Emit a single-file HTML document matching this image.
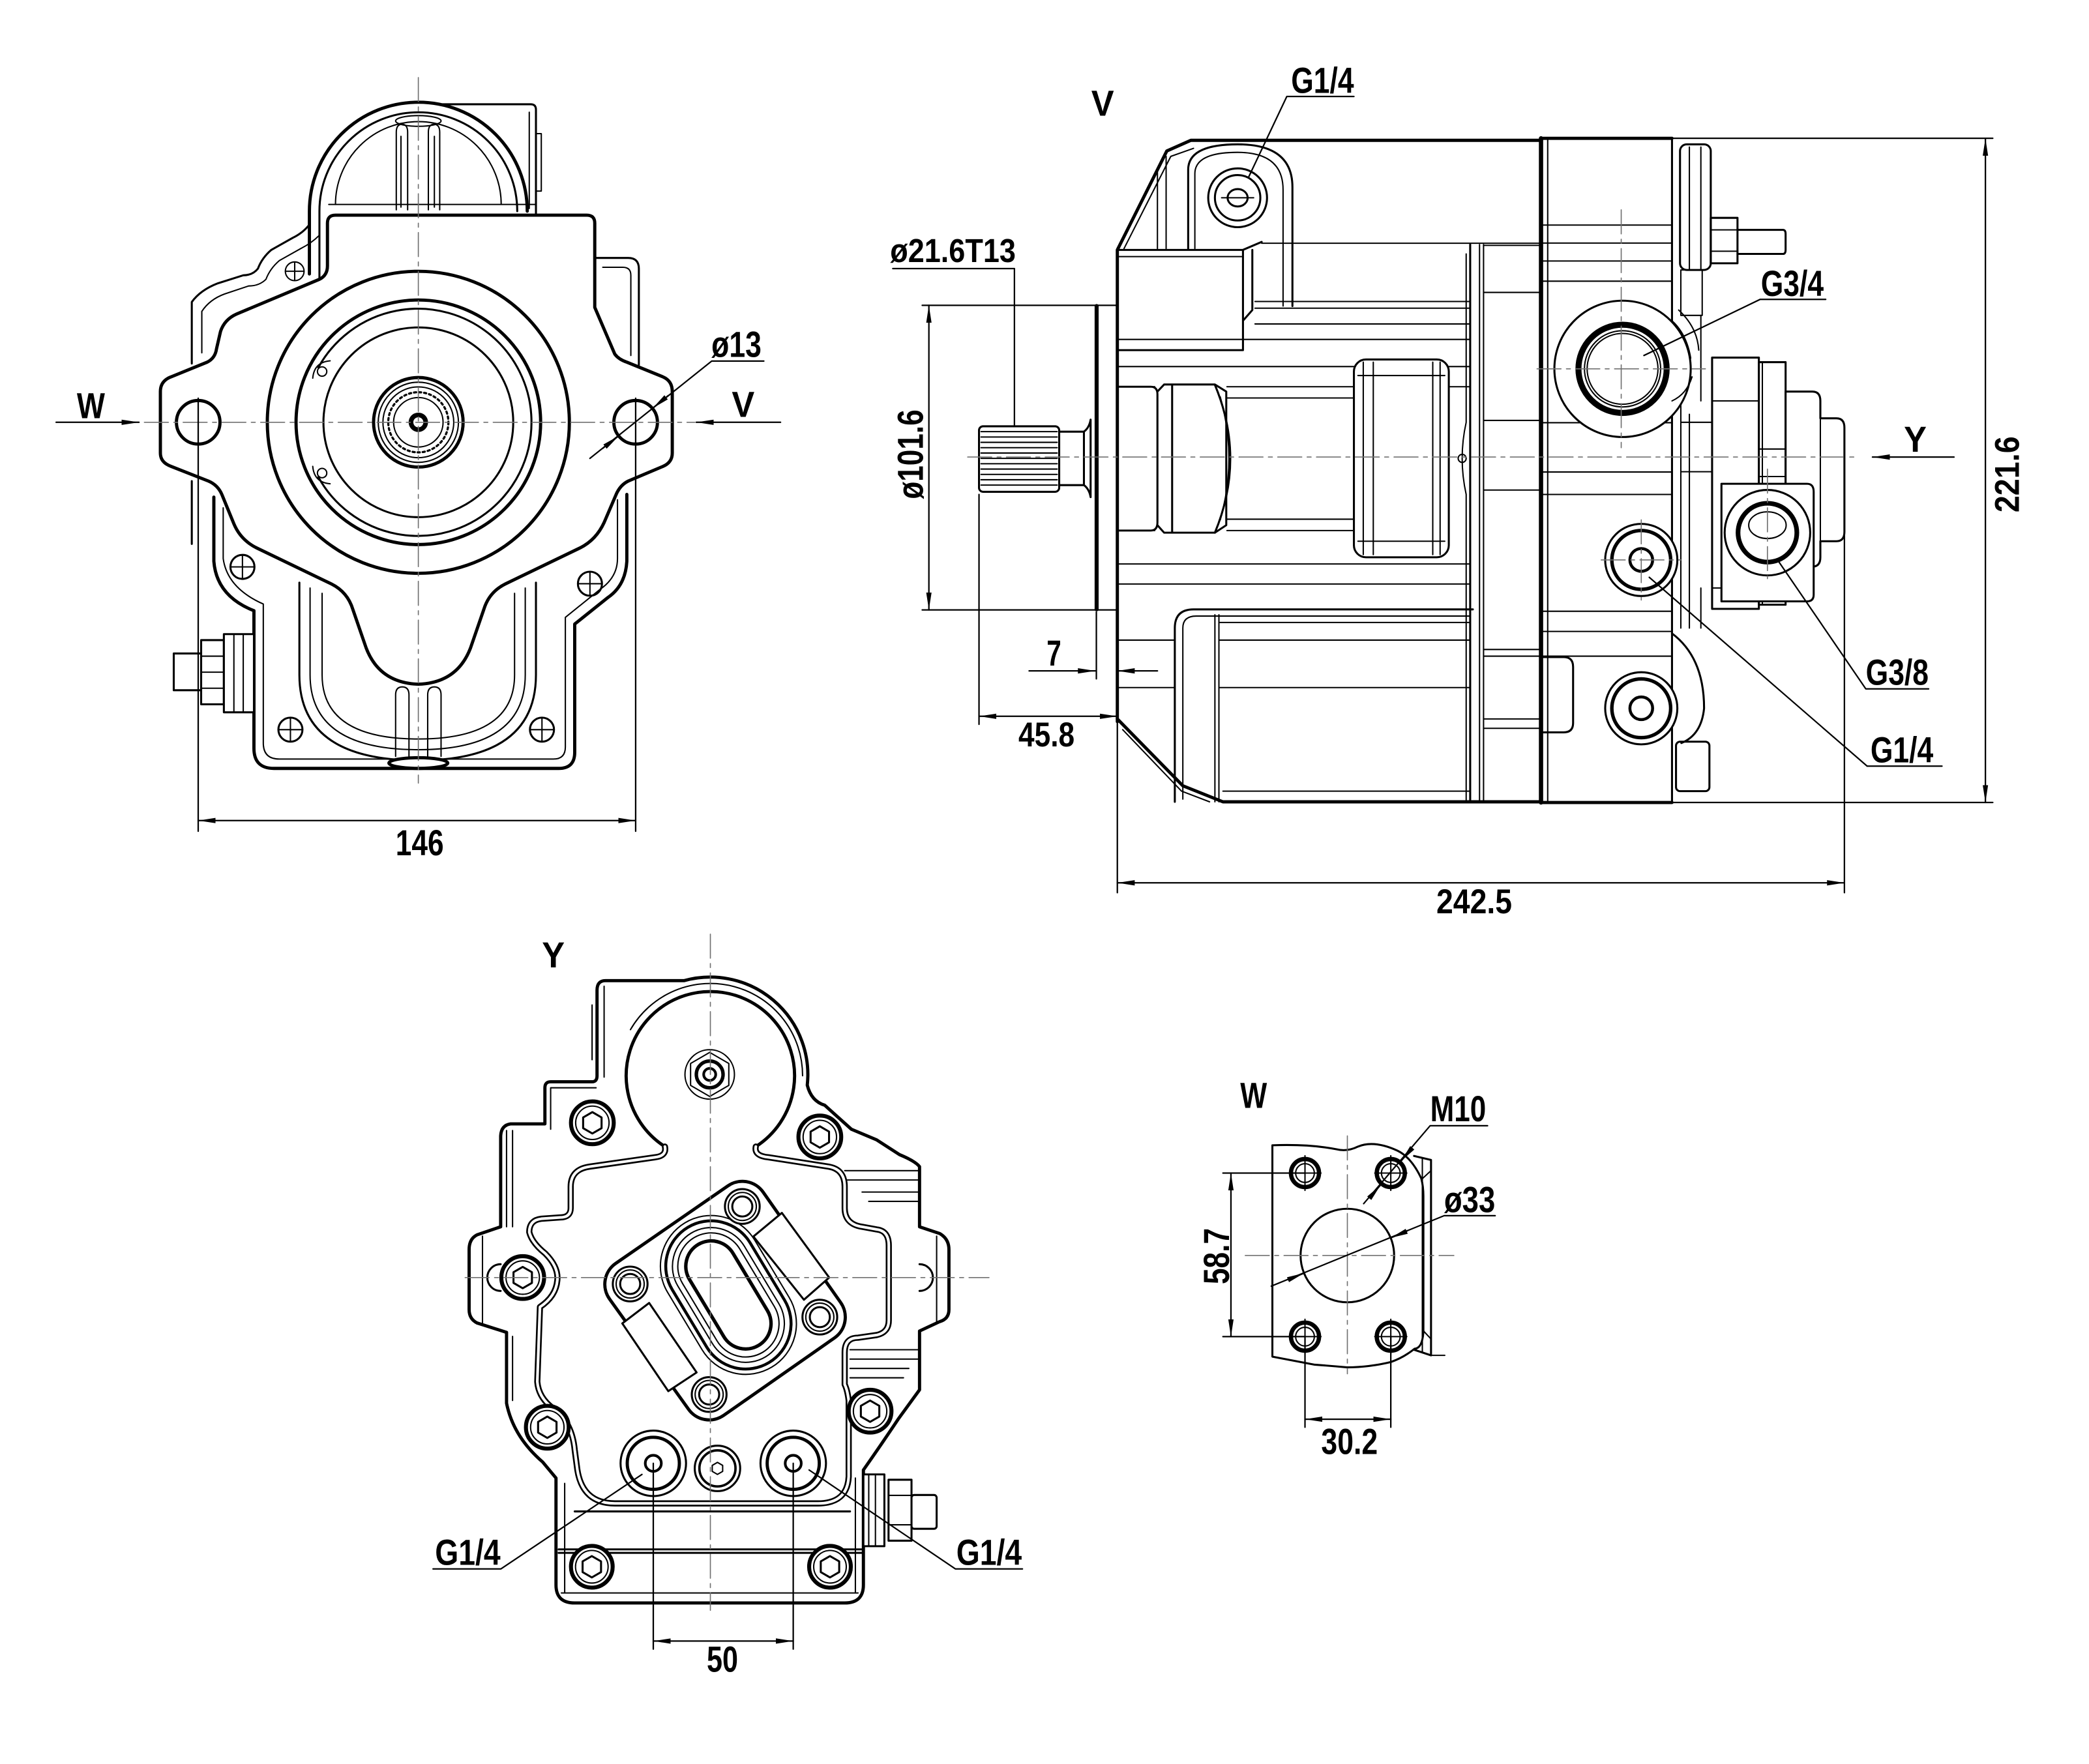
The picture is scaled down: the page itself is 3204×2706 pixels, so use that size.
<!DOCTYPE html>
<html><head><meta charset="utf-8"><title>Pump dimension drawing</title>
<style>
html,body{margin:0;padding:0;background:#fff}
svg{display:block}
text{font-family:"Liberation Sans",Arial,sans-serif;font-weight:bold;fill:#000;stroke:none}
.c{stroke:#707070;stroke-width:.8;stroke-dasharray:18 4 3 4;fill:none}
.t{stroke-width:1}
.m{stroke-width:1.5}
.k{stroke-width:2.4}
.d{stroke-width:1.1}
</style></head><body>
<svg xmlns="http://www.w3.org/2000/svg" width="3204" height="2706" viewBox="0 0 1563 1320" preserveAspectRatio="none">
<defs>
<marker id="ar" viewBox="0 0 13 5" refX="13" refY="2.5" markerWidth="13" markerHeight="5" orient="auto-start-reverse" markerUnits="userSpaceOnUse"><path d="M0,0.5 L13,2.5 L0,4.5 z" fill="#000" stroke="none"/></marker>
</defs>
<rect width="1563" height="1320" fill="#fff"/>

<!-- ===================== VIEW 1 : FRONT ===================== -->
<g fill="none" stroke="#000" stroke-linejoin="round" stroke-linecap="round">
<path class="k" d="M231.5,205 V158 A81.5 81.5 0 0 1 394.5,158"/>
<path class="m" d="M239,208 V158 A74 74 0 0 1 387,158"/>
<path class="t" d="M251,153 A62 62 0 0 1 375,153"/>
<path class="t" d="M246,153 H401"/>
<path class="m" d="M331,78 H397 Q401,78 401,82 V161"/>
<path class="t" d="M396,84 V156 M401,100 H405 V143 H401"/>
<path class="t" d="M296.5,157 V99 Q296.5,93 300.8,93 Q305,93 305,99 V157 M320.5,157 V99 Q320.5,93 324.7,93 Q329,93 329,99 V157 M300,155 V102 M325,155 V102"/>
<ellipse class="t" cx="313" cy="90.5" rx="17" ry="4"/>
<path class="m" d="M231.5,168 Q227,174 219,178 L203,187 Q196,193 193,201 Q189,206 182,206 L163,212 Q150,217 143.5,226 V272"/>
<path class="t" d="M239,176 Q233,182 225,186 L209,195 Q202,201 199,209 Q194,214 186,214 L168,220 Q157,224 151,233 V264"/>
<g transform="translate(220.5,203)"><circle r="7" class="t"/><path class="t" d="M-7,0 H7 M0,-7 V7"/></g>
<path class="m" d="M445,193 H470 Q478,193 478,201 V273"/>
<path class="t" d="M451,200 H466 Q472,200 472,206 V266"/>
<path class="m" d="M143.5,360 V407"/>
<path class="k" d="M160,372 V420 Q162,446 190,457 V560 Q190,575 205,575 H418 Q430,575 430,563 V467 L455,447 Q468,438 469,420 V370"/>
<path class="t" d="M167,380 V418 Q170,440 197,452 V556 Q197,568 209,568 H414 Q423,568 423,559 V462 L449,441 Q462,432 462,418 V374"/>
<path class="m" d="M224,436 V505 Q224,569 313,569 Q401,569 401,505 V436"/>
<path class="t" d="M232,440 V505 Q232,561 313,561 Q393,561 393,505 V440"/>
<path class="t" d="M241,444 V505 Q241,553 313,553 Q385,553 385,505 V444"/>
<path class="t" d="M296,566 V520 Q296,514 301,514 Q306,514 306,520 V566 M320,566 V520 Q320,514 325,514 Q330,514 330,520 V566"/>
<ellipse class="k" cx="313" cy="571" rx="22" ry="4" fill="#fff"/>
<g transform="translate(181.4,424.2)"><circle r="9" class="m"/><path class="t" d="M-9,0 H9 M0,-9 V9"/></g>
<g transform="translate(441.4,436.8)"><circle r="9" class="m"/><path class="t" d="M-9,0 H9 M0,-9 V9"/></g>
<g transform="translate(217.3,546)"><circle r="9" class="m"/><path class="t" d="M-9,0 H9 M0,-9 V9"/></g>
<g transform="translate(405.5,546)"><circle r="9" class="m"/><path class="t" d="M-9,0 H9 M0,-9 V9"/></g>
<rect class="m" x="130" y="489" width="20.5" height="27.5" fill="#fff"/>
<rect class="m" x="150.5" y="479" width="17" height="48" fill="#fff"/>
<path class="t" d="M150.5,491 H167.5 M150.5,503 H167.5 M150.5,515 H167.5"/>
<rect class="m" x="167.5" y="474.5" width="22.5" height="58.5" fill="#fff"/>
<path class="t" d="M175,474.5 V533 M182,474.5 V533"/>
<!-- flange -->
<path class="k" fill="#fff" d="M251,161 H439 Q445,161 445,167 V230 L460,265 Q463,269 469,271 L496,282 Q503,285 503,293 V339 Q503,346 496,349 L470,360 Q464,363 461,370 L452,391 Q446,404 434,410 L378,437 Q366,443 362,456 L352,485 Q342,511 313,512 Q284,511 274,485 L264,456 Q260,443 248,437 L192,410 Q180,404 175,392 L166,370 Q163,363 156,360 L128,349 Q120,346 120,339 V293 Q120,285 128,282 L155,271 Q161,268 162,261 L165,248 Q168,239 177,235 L239,209 Q245,206 245,199 V167 Q245,161 251,161 Z"/>
<circle class="k" cx="313" cy="316" r="113"/>
<circle class="k" cx="313" cy="316" r="91.5"/>
<circle class="m" cx="313" cy="316" r="71"/>
<path class="m" d="M238.2,275 A85 85 0 1 1 238.2,357"/>
<circle class="t" cx="241" cy="278" r="3.5"/>
<circle class="t" cx="241" cy="354" r="3.5"/>
<path class="t" d="M234,283 Q235,271 247,270 M234,349 Q235,361 247,362"/>
<circle class="k" cx="313" cy="316" r="33.5"/>
<circle class="t" cx="313" cy="316" r="30"/>
<circle class="t" cx="313" cy="316" r="26.5"/>
<circle cx="313" cy="316" r="22.5" stroke-width="1.6" stroke-dasharray="1.6 2.2"/>
<circle class="t" cx="313" cy="316" r="18.5"/>
<circle cx="313" cy="316" r="5.5" stroke-width="3.5"/>
<circle class="k" cx="148.3" cy="316" r="16.3"/>
<circle class="k" cx="475.6" cy="316" r="16.3"/>
<line class="c" x1="108" y1="316" x2="520" y2="316"/>
<line class="c" x1="313" y1="58" x2="313" y2="586"/>
<!-- W / V arrows -->
<path class="d" d="M42,316 H104" marker-end="url(#ar)"/>
<path class="d" d="M584,316 H521" marker-end="url(#ar)"/>
<!-- 146 -->
<path class="d" d="M148.3,298 V622 M475.6,298 V622"/>
<path class="d" d="M148.3,614 H475.6" marker-start="url(#ar)" marker-end="url(#ar)"/>
<!-- ø13 -->
<path class="d" d="M441.4,343 L532.5,270.2 H571.5"/>
<path class="d" d="M500,296 L488.3,305.5" marker-end="url(#ar)"/>
<path class="d" d="M451,335.5 L462.9,326.2" marker-end="url(#ar)"/>
</g>
<text x="68" y="313" font-size="27" text-anchor="middle" textLength="21" lengthAdjust="spacingAndGlyphs">W</text>
<text x="556" y="312" font-size="27" text-anchor="middle" textLength="17" lengthAdjust="spacingAndGlyphs">V</text>
<text x="314" y="640" font-size="27" text-anchor="middle" textLength="36" lengthAdjust="spacingAndGlyphs">146</text>
<text x="551" y="267" font-size="27" text-anchor="middle" textLength="37.4" lengthAdjust="spacingAndGlyphs">ø13</text>

<!-- ===================== VIEW 2 : SIDE ===================== -->
<g fill="none" stroke="#000" stroke-linejoin="round" stroke-linecap="round">
<!-- shaft -->
<rect class="m" x="732.5" y="319" width="60" height="49" rx="3"/>
<path class="t" d="M734,323 H791 M734,327 H791 M734,331 H791 M734,335 H791 M734,339 H791 M734,343 H791 M734,347 H791 M734,351 H791 M734,355 H791 M734,359 H791 M734,363 H791"/>
<path class="m" d="M792.5,323 H811 V363 H792.5 M811,323 Q815,320 816,314 V372 Q815,366 811,363"/>
<path d="M820.5,229 V456" stroke-width="3"/>
<!-- outline -->
<path class="k" d="M836,540 V187 L873,113 L891,105 H1153"/>
<path class="k" d="M836,538 L885,588 L915,600 H1153"/>
<path class="t" d="M841,186 L876,117 L893,111 M866,129 V186 M872.5,117 V186"/>
<path class="t" d="M840,546 L884,592 L905,600"/>
<!-- top boss -->
<path class="m" d="M889,186 V127 Q889,108 926,108 Q967,108 967,140 V229"/>
<path class="t" d="M894,186 V130 Q894,114 926,114 Q960,114 960,142 V229"/>
<circle class="m" cx="926" cy="148" r="22"/>
<circle class="m" cx="926" cy="148" r="17"/>
<ellipse class="m" cx="926" cy="148" rx="7.5" ry="6.5"/>
<path class="t" d="M914,148 H938"/>
<!-- block -->
<path class="m" d="M837,187 H930 L944,181 M930,187 V262 H837 M937,187 V232 L930,240"/>
<path class="t" d="M837,192 H929"/>
<!-- horizontal lines -->
<path class="t" d="M944,182 H1153 M939,225.6 H1100 M939,230.6 H1100 M939,242.4 H1100 M837,254 H1100 M837,274.3 H1013 M1084,274.3 H1100 M837,289.4 H864 M918,289.4 H1013 M1084,289.4 H1100 M918,297.8 H1013 M918,388.5 H1013 M837,397 H864 M918,397 H1013 M837,422 H1100 M837,437 H1100 M912,465.8 H1100 M837,479 H879 M912,479 H1100 M837,514.5 H879 M912,514.5 H1100 M915,592 H1100"/>
<!-- bearing / piston -->
<path class="m" d="M837,289.4 H861 Q866,289.4 866,295 V391 Q866,397 861,397 H837"/>
<path class="m" d="M866,293 L871,287.7 H909 L917.5,293 V393 L909,398.6 H871 L866,393"/>
<path class="m" d="M877,288 V398"/>
<path class="m" d="M909,288 Q932,343 909,398.6"/>
<path class="t" d="M913,297 Q926,343 913,389"/>
<!-- rounded rect -->
<rect class="m" x="1013" y="269" width="71" height="148" rx="9"/>
<path class="t" d="M1020,271 V415 M1027.5,271 V415 M1072,271 V415 M1077.5,271 V415 M1016,281 H1081 M1016,405 H1081"/>
<!-- middle section -->
<path class="m" d="M1100,183 V600"/>
<path class="t" d="M1097,190 V316 Q1091,343 1097,370 V600 M1107,183 V600 M1110,183 V600"/>
<circle class="t" cx="1094" cy="343" r="3"/>
<path class="t" d="M1110,183.6 H1153 M1110,218.8 H1153 M1110,314.6 H1153 M1110,366.7 H1153 M1110,486 H1153 M1110,491 H1153 M1110,538 H1153 M1110,545 H1153"/>
<!-- lower cylinder -->
<path class="m" d="M879,600 V470 Q879,456 893,456 H1102"/>
<path class="t" d="M885,598 V470 Q885,461 895,461 H1100 M909,460 V600 M912,460 V600"/>
<!-- end cap -->
<path d="M1153,103.5 V600.5" stroke-width="3.2"/>
<path class="k" d="M1153,103.5 H1251 M1153,600.5 H1251"/>
<path class="m" d="M1251,103.5 V600.5"/>
<path class="t" d="M1158,104 V600 M1153,168.4 H1251 M1153,181.9 H1251 M1153,195.3 H1251 M1153,210.4 H1251 M1153,316.3 H1251 M1153,353.2 H1251 M1153,370 H1251 M1153,457.4 H1251 M1153,472.5 H1251 M1153,491 H1251"/>
<path class="m" d="M1155,491.7 H1170 Q1177,491.7 1177,499 V541 Q1177,548 1170,548 H1155"/>
<!-- right column -->
<rect class="m" x="1257" y="108" width="23" height="94" rx="5"/>
<path class="t" d="M1264,110 V202 M1272.6,110 V202"/>
<rect class="t" x="1257.6" y="202" width="16" height="34"/>
<path class="t" d="M1257.6,300 V470 M1264,310 V470 M1272.6,236 V300 M1272.6,440 V470 M1257.6,316 H1281 M1257.6,353 H1281"/>
<path class="m" d="M1251,474 Q1275,492 1275,530 Q1273,550 1258,556"/>
<rect class="m" x="1254" y="555" width="25" height="37" rx="3"/>
<!-- stud -->
<rect class="m" x="1280" y="163" width="20" height="34"/>
<path class="t" d="M1280,172 H1300 M1280,188 H1300"/>
<path class="m" d="M1300,172 H1334 Q1336,172 1336,175 V187 Q1336,190 1334,190 H1300"/>
<!-- G3/4 port -->
<circle class="m" cx="1214" cy="276" r="51" fill="#fff"/>
<path class="t" d="M1251,240 Q1262,250 1265,268 M1251,300 Q1262,295 1266,282 M1256,232 Q1270,245 1271,262"/>
<circle cx="1214" cy="276" r="33" stroke-width="4.5"/>
<circle class="t" cx="1214" cy="276" r="28.5"/>
<circle class="t" cx="1214" cy="276" r="26.5"/>
<line class="c" x1="1213" y1="157" x2="1213" y2="335"/>
<line class="c" x1="1150" y1="276" x2="1276" y2="276"/>
<!-- Y-end housing -->
<rect class="m" x="1281" y="267.6" width="35" height="188" fill="#fff"/>
<rect class="m" x="1316" y="271" width="20" height="181.5" fill="#fff"/>
<path class="m" fill="#fff" d="M1336,293 H1356 Q1362,293 1362,300 V313 H1374 Q1380,313 1380,320 V398 Q1380,405 1374,405 H1362 V417 Q1362,424 1356,424 H1336 Z"/>
<path class="t" d="M1318.6,271 V452 M1316,336 H1336 M1316,356.6 H1336 M1362,313 V405 M1281,300 H1316 M1281,440 H1316"/>
<!-- G3/8 -->
<path class="m" fill="#fff" d="M1288,362 H1352 Q1357,362 1357,368 V445 Q1357,450 1352,450 H1288 Z"/>
<circle class="m" cx="1322.4" cy="398.6" r="32" fill="#fff"/>
<circle cx="1322.4" cy="398.6" r="22" stroke-width="3.5"/>
<ellipse class="t" cx="1322.4" cy="393" rx="14" ry="10"/>
<line class="c" x1="1322.4" y1="351" x2="1322.4" y2="433"/>
<!-- G1/4 ports -->
<circle class="m" cx="1228" cy="419" r="27" fill="#fff"/>
<circle cx="1228" cy="419" r="22" stroke-width="2.6"/>
<circle cx="1228" cy="419" r="8.5" stroke-width="2.2"/>
<path class="c" d="M1198,419 H1258 M1228,389 V449"/>
<circle class="m" cx="1228" cy="530" r="27" fill="#fff"/>
<circle cx="1228" cy="530" r="22" stroke-width="2.6"/>
<circle cx="1228" cy="530" r="8.5" stroke-width="2.2"/>
<line class="c" x1="724" y1="342" x2="1388" y2="342"/>
<!-- dims -->
<path class="d" d="M690,228.5 H836 M690,456.4 H836"/>
<path class="d" d="M695,228.5 V456.4" marker-start="url(#ar)" marker-end="url(#ar)"/>
<path class="d" d="M668,201 H759 V319"/>
<path class="d" d="M820.3,458 V508 M732.5,370 V542"/>
<path class="d" d="M770,502 H819.5" marker-end="url(#ar)"/>
<path class="d" d="M866,502 H836" marker-end="url(#ar)"/>
<path class="d" d="M732.5,536 H836" marker-start="url(#ar)" marker-end="url(#ar)"/>
<path class="d" d="M836,540 V668 M1380,320 V668"/>
<path class="d" d="M836,660.6 H1380" marker-start="url(#ar)" marker-end="url(#ar)"/>
<path class="d" d="M1251,103.5 H1491 M1251,600.5 H1491"/>
<path class="d" d="M1485.5,103.5 V600.5" marker-start="url(#ar)" marker-end="url(#ar)"/>
<path class="d" d="M1462,342 H1401" marker-end="url(#ar)"/>
<!-- leaders -->
<path class="d" d="M1013,72.2 H962.8 L934,133"/>
<path class="d" d="M1366,224 H1317 L1230,266"/>
<path class="d" d="M1443,515.5 H1396 L1330,419"/>
<path class="d" d="M1453,573.3 H1397 L1234,432"/>
</g>
<text x="825" y="86.5" font-size="27" text-anchor="middle" textLength="17" lengthAdjust="spacingAndGlyphs">V</text>
<text x="989.5" y="69.5" font-size="27" text-anchor="middle" textLength="47" lengthAdjust="spacingAndGlyphs">G1/4</text>
<text x="713" y="196" font-size="25" text-anchor="middle" textLength="94" lengthAdjust="spacingAndGlyphs">ø21.6T13</text>
<text transform="translate(690.5,340) rotate(-90)" font-size="27" text-anchor="middle" textLength="67" lengthAdjust="spacingAndGlyphs">ø101.6</text>
<text x="788.6" y="498" font-size="27" text-anchor="middle" textLength="11" lengthAdjust="spacingAndGlyphs">7</text>
<text x="783" y="558.5" font-size="26" text-anchor="middle" textLength="42" lengthAdjust="spacingAndGlyphs">45.8</text>
<text x="1103" y="683.5" font-size="26" text-anchor="middle" textLength="56.6" lengthAdjust="spacingAndGlyphs">242.5</text>
<text transform="translate(1510.5,355) rotate(-90)" font-size="26" text-anchor="middle" textLength="57" lengthAdjust="spacingAndGlyphs">221.6</text>
<text x="1341" y="221.5" font-size="27" text-anchor="middle" textLength="47" lengthAdjust="spacingAndGlyphs">G3/4</text>
<text x="1433" y="338" font-size="27" text-anchor="middle" textLength="17" lengthAdjust="spacingAndGlyphs">Y</text>
<text x="1419.5" y="512.5" font-size="27" text-anchor="middle" textLength="47" lengthAdjust="spacingAndGlyphs">G3/8</text>
<text x="1423" y="570.5" font-size="27" text-anchor="middle" textLength="47" lengthAdjust="spacingAndGlyphs">G1/4</text>

<!-- ===================== VIEW 3 : Y ===================== -->
<g fill="none" stroke="#000" stroke-linejoin="round" stroke-linecap="round">
<path class="k" d="M446.7,741 Q446.7,733.8 453,733.8 L512,733.8 A73 73 0 0 1 604,812 Q607,824 617,827 L637,845 L656,853 L673,864 Q685,869 688,873 V918 L703,923 Q710,927 710,935 V980 Q710,987 703,989 L688,996 V1040 L672,1062 Q660,1080 646,1100 V1186 Q646,1199.5 632,1199.5 H430 Q416,1199.5 416,1186 V1106 L406,1094 Q384,1075 379,1050 V997 L357,990 Q351,987 351,980 V935 Q351,927 357,924 L374.6,918 V850 Q375,842 382,841 H407.7 V814 Q407.7,809.5 412,809.5 H443 Q446.7,809.5 446.7,805 Z"/>
<path class="t" d="M452,738 V806 M412,814 H446 M412,814 V845 M379,846 V918 M383.5,846 V918 M379,1000 V1048 M383.5,1000 V1048 M443,752 V793"/>
<path class="t" d="M471.7,770.5 A69 69 0 0 1 600.5,805"/>
<path class="k" d="M497.5,858 A63 63 0 1 1 565.5,858"/>
<!-- cavity contour double line -->
<path stroke-width="4.6" d="M497.5,858 Q499,865 490,866 L441,873 Q427,875 427,888 L427,904 Q427,911 419,911 L405,912 Q396,913 396,922 Q398,930 408,938 Q418,948 417,958 Q416,970 404,978 L402,1034 Q403,1046 414,1054 Q428,1064 430,1085 L432,1100 Q436,1125 460,1125 L612,1125 Q634,1125 635,1105 L635,1048 Q634,1040 632,1036 L632,1012 Q632,1001 642,1001 L656,999 Q665,997 665,988 L665,932 Q665,921 656,920 L645,918 Q632,916 632,904 L632,888 Q632,875 620,873 L575,866 Q564,865 565.5,858"/>
<path stroke="#fff" stroke-width="2" d="M497.5,858 Q499,865 490,866 L441,873 Q427,875 427,888 L427,904 Q427,911 419,911 L405,912 Q396,913 396,922 Q398,930 408,938 Q418,948 417,958 Q416,970 404,978 L402,1034 Q403,1046 414,1054 Q428,1064 430,1085 L432,1100 Q436,1125 460,1125 L612,1125 Q634,1125 635,1105 L635,1048 Q634,1040 632,1036 L632,1012 Q632,1001 642,1001 L656,999 Q665,997 665,988 L665,932 Q665,921 656,920 L645,918 Q632,916 632,904 L632,888 Q632,875 620,873 L575,866 Q564,865 565.5,858"/>
<path class="t" d="M632,876 H688 M634,883 H688 M645,892 H688 M650,899 H688 M636,1010 H688 M636,1017 H688 M636,1024 H680 M636,1031 H676"/>
<path class="m" d="M430,1131 H636 M418,1159.4 H646 M418,1162 H646"/>
<path class="t" d="M420,1192 H642 M422.5,1110 V1192 M640,1106 V1192"/>
<path class="t" d="M700.8,925 V990 M361,925 V990"/>
<path class="m" d="M688,946 A10 10 0 0 1 688,966 M374.6,946 A10 10 0 0 0 374.6,966"/>
<!-- dome nut -->
<circle class="t" cx="531" cy="804" r="18.5"/>
<polygon class="t" points="531,787.5 545.3,795.8 545.3,812.2 531,820.5 516.7,812.2 516.7,795.8"/>
<circle cx="531" cy="804" r="10" stroke-width="2.6"/>
<circle cx="531" cy="804" r="4.5" stroke-width="2"/>
<!-- flange plate -->
<path class="k" fill="#fff" d="M460.7,945.4 L544.6,887.4 A19 19 0 0 1 571,892.1 L629,974.7 A19 19 0 0 1 624.3,1001.2 L541.5,1059.1 A19 19 0 0 1 515.2,1054.6 L456.1,972.1 A19 19 0 0 1 460.7,945.4 Z"/>
<g transform="translate(545,969) rotate(-31)">
<rect x="-38" y="-63" width="76" height="126" rx="38" class="t"/>
<rect x="-34" y="-59" width="68" height="118" rx="34" stroke-width="2.2"/>
<rect x="-29" y="-54" width="58" height="108" rx="29" class="t"/>
<rect x="-25" y="-50" width="50" height="100" rx="25" class="t"/>
<rect x="-19" y="-44" width="38" height="88" rx="19" stroke-width="2.6"/>
</g>
<path class="m" fill="#fff" d="M563.7,925.3 L585,907.6 L620.4,956 L601.5,972.6 Z"/>
<path class="m" fill="#fff" d="M465.6,990.3 L485.7,975 L521.2,1027 L500,1041 Z"/>
<g transform="translate(555.4,902.8)"><circle r="13" class="m" fill="#fff"/><circle r="10.5" class="t"/><circle r="7.5" class="m"/></g>
<g transform="translate(471.5,960.8)"><circle r="13" class="m" fill="#fff"/><circle r="10.5" class="t"/><circle r="7.5" class="m"/></g>
<g transform="translate(613.4,985.6)"><circle r="13" class="m" fill="#fff"/><circle r="10.5" class="t"/><circle r="7.5" class="m"/></g>
<g transform="translate(530.6,1043.5)"><circle r="13" class="m" fill="#fff"/><circle r="10.5" class="t"/><circle r="7.5" class="m"/></g>
<!-- hex bolts -->
<g transform="translate(443.2,840.2)"><circle r="16" stroke-width="3" fill="#fff"/><circle r="12.5" class="t"/><polygon class="m" points="0,-8 6.9,-4 6.9,4 0,8 -6.9,4 -6.9,-4"/></g>
<g transform="translate(613.4,850.8)"><circle r="16" stroke-width="3" fill="#fff"/><circle r="12.5" class="t"/><polygon class="m" points="0,-8 6.9,-4 6.9,4 0,8 -6.9,4 -6.9,-4"/></g>
<g transform="translate(391.1,956)"><circle r="16" stroke-width="3" fill="#fff"/><circle r="12.5" class="t"/><polygon class="m" points="0,-8 6.9,-4 6.9,4 0,8 -6.9,4 -6.9,-4"/></g>
<g transform="translate(651,1056)"><circle r="16" stroke-width="3" fill="#fff"/><circle r="12.5" class="t"/><polygon class="m" points="0,-8 6.9,-4 6.9,4 0,8 -6.9,4 -6.9,-4"/></g>
<g transform="translate(409.5,1068)"><circle r="16" stroke-width="3" fill="#fff"/><circle r="12.5" class="t"/><polygon class="m" points="0,-8 6.9,-4 6.9,4 0,8 -6.9,4 -6.9,-4"/></g>
<g transform="translate(442.8,1172.4)"><circle r="15.6" stroke-width="3" fill="#fff"/><circle r="12.2" class="t"/><polygon class="m" points="0,-8 6.9,-4 6.9,4 0,8 -6.9,4 -6.9,-4"/></g>
<g transform="translate(621,1172.4)"><circle r="15.6" stroke-width="3" fill="#fff"/><circle r="12.2" class="t"/><polygon class="m" points="0,-8 6.9,-4 6.9,4 0,8 -6.9,4 -6.9,-4"/></g>
<!-- ports -->
<g transform="translate(488.8,1095)"><circle r="24.5" class="m" fill="#fff"/><circle r="19.5" stroke-width="2.4"/><circle r="6" stroke-width="2"/></g>
<g transform="translate(593.5,1095)"><circle r="24.5" class="m" fill="#fff"/><circle r="19.5" stroke-width="2.4"/><circle r="6" stroke-width="2"/></g>
<g transform="translate(536.8,1098.8)"><circle r="17" class="m" fill="#fff"/><circle r="13.5" stroke-width="1.8"/><polygon class="t" points="0,-4.5 3.9,-2.25 3.9,2.25 0,4.5 -3.9,2.25 -3.9,-2.25"/></g>
<!-- right fitting -->
<rect class="m" x="646" y="1103.3" width="15.7" height="53.7" fill="#fff"/>
<rect class="m" x="664.8" y="1107.3" width="17.2" height="45.6" fill="#fff"/>
<path class="t" d="M664.8,1119 H682 M664.8,1141 H682 M650,1103.3 V1157 M655,1103.3 V1157"/>
<rect class="m" x="682" y="1118.7" width="18.8" height="25.3" rx="2" fill="#fff"/>
<line class="c" x1="531.5" y1="699" x2="531.5" y2="1205"/>
<line class="c" x1="348" y1="956" x2="740" y2="956"/>
<!-- dims / leaders -->
<path class="d" d="M488.8,1095 V1234 M593.5,1095 V1234"/>
<path class="d" d="M488.8,1228 H593.5" marker-start="url(#ar)" marker-end="url(#ar)"/>
<path class="d" d="M324,1174 H374.8 L480.3,1103.3"/>
<path class="d" d="M765,1174 H714.8 L605.4,1100"/>
</g>
<text x="414" y="724" font-size="27" text-anchor="middle" textLength="17" lengthAdjust="spacingAndGlyphs">Y</text>
<text x="350" y="1171" font-size="27" text-anchor="middle" textLength="49" lengthAdjust="spacingAndGlyphs">G1/4</text>
<text x="740" y="1171" font-size="27" text-anchor="middle" textLength="49" lengthAdjust="spacingAndGlyphs">G1/4</text>
<text x="540.5" y="1251" font-size="27" text-anchor="middle" textLength="23.4" lengthAdjust="spacingAndGlyphs">50</text>

<!-- ===================== VIEW 4 : W ===================== -->
<g fill="none" stroke="#000" stroke-linejoin="round" stroke-linecap="round">
<path class="m" d="M952,857 Q980,856 1000,860 Q1008,862 1016,858 Q1028,853 1045.5,861 Q1056,866 1063.4,881.8 Q1065,888 1065,895 V997 Q1064,1009 1058.5,1009.2 Q1050,1016 1040.6,1019.2 Q1025,1023 1008,1023.2 Q995,1022 983.7,1021.2 L952,1015.2 Z"/>
<path class="m" d="M1058,865 L1070.7,868 V1014.2 L1058,1010"/>
<path class="t" d="M1064.2,867 V1012 M1064.2,882 L1070.7,876 M1064.2,995 L1070.7,1002 M1070.7,1014.2 H1081"/>
<circle class="m" cx="1008.1" cy="939.5" r="35"/>
<line class="c" x1="1008.1" y1="850" x2="1008.1" y2="1028"/>
<line class="c" x1="931.7" y1="939.5" x2="1087.8" y2="939.5"/>
<g transform="translate(976.4,877.8)"><circle r="10.5" stroke-width="3.2"/><circle r="7" class="t"/><path class="t" d="M-12,0 H12 M0,-13 V13"/></g>
<g transform="translate(1040.6,877.8)"><circle r="10.5" stroke-width="3.2"/><circle r="7" class="t"/><path class="t" d="M-12,0 H12 M0,-13 V13"/></g>
<g transform="translate(976.4,1000.2)"><circle r="10.5" stroke-width="3.2"/><circle r="7" class="t"/><path class="t" d="M-12,0 H12 M0,-13 V13"/></g>
<g transform="translate(1040.6,1000.2)"><circle r="10.5" stroke-width="3.2"/><circle r="7" class="t"/><path class="t" d="M-12,0 H12 M0,-13 V13"/></g>
<path class="d" d="M915,877.8 H976.4 M915,1000.2 H976.4"/>
<path class="d" d="M921,877.8 V1000.2" marker-start="url(#ar)" marker-end="url(#ar)"/>
<path class="d" d="M976.4,1000 V1068 M1040.6,1000 V1068"/>
<path class="d" d="M976.4,1062 H1040.6" marker-start="url(#ar)" marker-end="url(#ar)"/>
<path class="d" d="M1113,842.4 H1070 L1020.3,900.7"/>
<path class="d" d="M1056,859.7 L1048.3,868.8" marker-end="url(#ar)"/>
<path class="d" d="M1025.2,895.8 L1032.9,886.8" marker-end="url(#ar)"/>
<path class="d" d="M1118.7,909.7 H1080.5 L951.2,962.4"/>
<path class="d" d="M1052.5,921.4 L1040.5,926.3" marker-end="url(#ar)"/>
<path class="d" d="M963.7,957.6 L975.7,952.7" marker-end="url(#ar)"/>
</g>
<text x="938" y="829" font-size="27" text-anchor="middle" textLength="20" lengthAdjust="spacingAndGlyphs">W</text>
<text x="1091" y="839" font-size="27" text-anchor="middle" textLength="41.8" lengthAdjust="spacingAndGlyphs">M10</text>
<text x="1099.6" y="907" font-size="27" text-anchor="middle" textLength="38.2" lengthAdjust="spacingAndGlyphs">ø33</text>
<text transform="translate(919.5,940) rotate(-90)" font-size="27" text-anchor="middle" textLength="42" lengthAdjust="spacingAndGlyphs">58.7</text>
<text x="1009.7" y="1088" font-size="27" text-anchor="middle" textLength="42.3" lengthAdjust="spacingAndGlyphs">30.2</text>
</svg>
</body></html>
